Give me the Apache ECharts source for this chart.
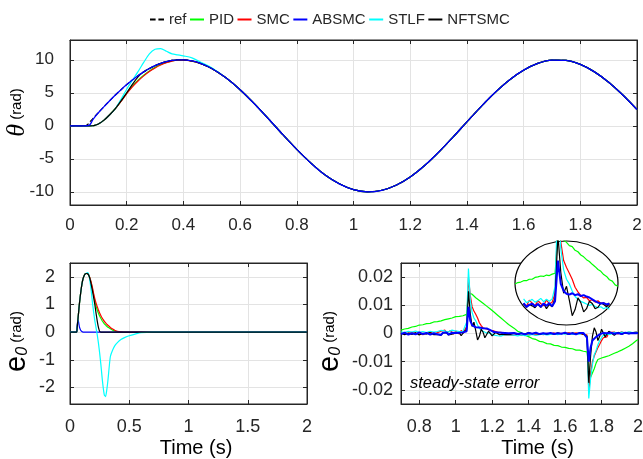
<!DOCTYPE html>
<html><head><meta charset="utf-8">
<script src="https://cdn.jsdelivr.net/npm/echarts@6/dist/echarts.min.js"></script>
<style>html,body{margin:0;padding:0;background:#fff}#c{width:643px;height:459px}</style>
</head><body><div id="c"></div>
<script>
// ---------- names ----------
const seriesNames = ['ref', 'PID', 'SMC', 'ABSMC', 'STLF', 'NFTSMC'];

// ---------- top panel: theta (rad) ----------
const tTopHead = [0, 0.05, 0.06, 0.07, 0.08, 0.09, 0.10, 0.12, 0.14, 0.16, 0.18, 0.20, 0.22, 0.24, 0.26, 0.28, 0.30, 0.32, 0.34, 0.36, 0.38, 0.40, 0.43, 0.46, 0.50];
const refHead    = [0, 0, 0.12, 0.59, 1.06, 1.53, 1.99, 2.91, 3.80, 4.66, 5.47, 6.24, 6.95, 7.59, 8.17, 8.68, 9.11, 9.46, 9.72, 9.90, 9.99, 9.99, 9.82, 9.46, 8.68];
const pidHead    = [0, 0, 0, 0, 0.01, 0.11, 0.27, 0.86, 1.68, 2.62, 3.74, 4.94, 6.02, 6.91, 7.67, 8.32, 8.85, 9.28, 9.60, 9.83, 9.95, 9.97, 9.81, 9.46, 8.68];
const smcHead    = [0, 0, 0, 0, 0.01, 0.11, 0.27, 0.86, 1.68, 2.61, 3.69, 4.86, 5.90, 6.79, 7.57, 8.23, 8.77, 9.21, 9.55, 9.79, 9.93, 9.96, 9.81, 9.46, 8.68];
const absmcHead  = [0, 0, 0.02, 0.16, 0.88, 1.46, 1.97, 2.91, 3.80, 4.66, 5.47, 6.24, 6.95, 7.59, 8.17, 8.68, 9.11, 9.46, 9.72, 9.90, 9.99, 9.99, 9.82, 9.46, 8.68];
const stlfHead   = [0, 0, 0, 0, 0.01, 0.11, 0.27, 0.86, 1.67, 2.61, 4.02, 5.54, 6.90, 8.20, 9.60, 10.90, 11.60, 11.70, 11.30, 10.90, 10.75, 10.60, 10.30, 9.65, 8.80];
const nftsmcHead = [0, 0, 0, 0, 0.01, 0.11, 0.27, 0.86, 1.68, 2.62, 3.77, 5.00, 6.27, 7.42, 8.17, 8.68, 9.11, 9.46, 9.72, 9.90, 9.99, 9.99, 9.82, 9.46, 8.68];
const tTopTail   = [0.55, 0.60, 0.65, 0.70, 0.75, 0.80, 0.85, 0.90, 0.95, 1.00, 1.05, 1.10, 1.15, 1.20, 1.25, 1.30, 1.35, 1.40, 1.45, 1.50, 1.55, 1.60, 1.65, 1.70, 1.75, 1.80, 1.85, 1.90, 1.95, 2.00];
const thetaTail  = [7.27, 5.47, 3.35, 1.06, -1.30, -3.57, -5.66, -7.46, -8.79, -9.67, -10.00, -9.77, -9.01, -7.75, -6.05, -4.02, -1.76, 0.59, 2.91, 5.07, 6.95, 8.43, 9.46, 9.96, 9.90, 9.30, 8.17, 6.60, 4.66, 2.46];
const topXTicks = [0, 0.2, 0.4, 0.6, 0.8, 1, 1.2, 1.4, 1.6, 1.8, 2];
const topYTicks = [-10, -5, 0, 5, 10];

// ---------- bottom-left: tracking error e0 (rad) ----------
const tErr = [0, 0.05, 0.057, 0.06, 0.065, 0.07, 0.075, 0.08, 0.09, 0.10, 0.11, 0.12, 0.13, 0.14, 0.15, 0.16, 0.17, 0.18, 0.19, 0.20, 0.21, 0.22, 0.23, 0.24, 0.25, 0.26, 0.27, 0.28, 0.29, 0.30, 0.31, 0.32, 0.34, 0.36, 0.38, 0.40, 0.43, 0.46, 0.50, 0.55, 0.60, 0.70, 1.00, 1.50, 2.00];
const ePID    = [0, 0, 0, 0.13, 0.37, 0.60, 0.83, 1.05, 1.42, 1.72, 1.93, 2.05, 2.11, 2.12, 2.11, 2.04, 1.92, 1.75, 1.55, 1.33, 1.12, 0.93, 0.80, 0.68, 0.58, 0.50, 0.42, 0.36, 0.30, 0.26, 0.21, 0.18, 0.12, 0.07, 0.04, 0.02, 0.01, 0, 0, 0, 0, 0, 0, 0, 0];
const eSMC    = [0, 0, 0, 0.13, 0.37, 0.60, 0.83, 1.05, 1.42, 1.72, 1.93, 2.05, 2.11, 2.12, 2.11, 2.05, 1.94, 1.78, 1.60, 1.38, 1.20, 1.05, 0.92, 0.80, 0.69, 0.60, 0.52, 0.45, 0.39, 0.34, 0.29, 0.25, 0.17, 0.11, 0.06, 0.03, 0.01, 0, 0, 0, 0, 0, 0, 0, 0];
const eABSMC  = [0, 0, 0, 0.20, 0.40, 0.43, 0.30, 0.18, 0.07, 0.02, 0, 0, 0, 0, 0, 0, 0, 0, 0, 0, 0, 0, 0, 0, 0, 0, 0, 0, 0, 0, 0, 0, 0, 0, 0, 0, 0, 0, 0, 0, 0, 0, 0, 0, 0];
const eSTLF   = [0, 0, 0, 0.13, 0.37, 0.60, 0.83, 1.05, 1.42, 1.72, 1.93, 2.05, 2.11, 2.14, 2.15, 2.05, 1.80, 1.45, 1.05, 0.70, 0.40, 0.15, -0.10, -0.40, -0.75, -1.15, -1.60, -2.00, -2.28, -2.33, -2.10, -1.75, -0.90, -0.65, -0.48, -0.38, -0.27, -0.20, -0.13, -0.07, -0.02, 0, 0, 0, 0];
const eNFTSMC = [0, 0, 0, 0.13, 0.37, 0.60, 0.83, 1.05, 1.42, 1.72, 1.93, 2.05, 2.11, 2.12, 2.11, 2.04, 1.90, 1.70, 1.48, 1.24, 0.98, 0.68, 0.40, 0.17, 0.03, 0, 0, 0, 0, 0, 0, 0, 0, 0, 0, 0, 0, 0, 0, 0, 0, 0, 0, 0, 0];
const blXTicks = [0, 0.5, 1, 1.5, 2];
const blYTicks = [-2, -1, 0, 1, 2];

// ---------- bottom-right: steady-state error, in milli-rad ----------
const tSS = [0.70, 0.72, 0.74, 0.76, 0.78, 0.80, 0.82, 0.84, 0.86, 0.88,
  0.90, 0.91, 0.92, 0.93, 0.94, 0.95, 0.96, 0.97, 0.98, 0.99,
  1.00, 1.01, 1.02, 1.03, 1.04, 1.05, 1.06, 1.07, 1.08, 1.09,
  1.10, 1.11, 1.12, 1.13, 1.14, 1.15, 1.16, 1.17, 1.18, 1.19,
  1.20, 1.21, 1.22, 1.23, 1.24, 1.25, 1.26, 1.27, 1.28, 1.29, 1.30,
  1.32, 1.34, 1.36, 1.38, 1.40, 1.42, 1.44, 1.46, 1.48, 1.50,
  1.52, 1.54, 1.56, 1.58, 1.60, 1.62, 1.64, 1.66, 1.68,
  1.69, 1.70, 1.71, 1.72, 1.73, 1.74, 1.75, 1.76, 1.77, 1.78, 1.79,
  1.80, 1.81, 1.82, 1.83, 1.84, 1.85,
  1.87, 1.89, 1.91, 1.93, 1.95, 1.97, 1.99, 2.00];
const ssPID = [1.2, 1.6, 1.8, 2.3, 2.5, 3.0, 3.1, 3.5, 3.6, 4.1,
  4.2, 4.5, 4.5, 4.8, 4.9, 5.2, 5.2, 5.5, 5.5, 5.9,
  6.0, 6.2, 6.1, 6.4, 6.3, 6.6, 6.8, 14.5, 14.8, 13.9,
  13.4, 12.7, 12.5, 11.7, 11.4, 10.7, 10.3, 9.7, 9.3, 8.7,
  8.2, 7.6, 7.2, 6.5, 6.1, 5.4, 5.1, 4.3, 4.0, 3.2, 2.9,
  1.9, 0.8, 0.3, -0.6, -1.1, -1.8, -2.1, -2.8, -3.0, -3.6,
  -3.7, -4.2, -4.3, -4.8, -4.9, -5.3, -5.4, -5.9, -5.9,
  -6.1, -6.3, -6.2, -6.5, -11.5, -15.5, -14.0, -12.5, -10.5, -9.2, -8.9,
  -8.7, -8.6, -8.3, -8.2, -7.9, -7.8,
  -7.0, -6.5, -5.9, -5.2, -4.5, -3.6, -2.6, -2.1];
const ssSMC = [0.2, -0.3, 0.1, 0.4, -0.2, 0.3, -0.4, 0.2, 0.5, -0.1,
  0.3, -0.2, 0.8, 0.1, 1.2, 0.2, -0.3, 1.0, 0.4, -0.2,
  0.9, 0.3, -0.2, 1.1, 0.2, 0.6, 2.5, 19.8, 13.5, 9.5,
  8.0, 6.8, 5.5, 3.8, 2.8, 2.0, 1.5, 1.6, 0.9, 1.1,
  0.6, 0.9, 0.3, 0.5, -0.2, 0.4, -0.5, 0.1, -0.6, -0.3, -0.5,
  -0.6, -0.3, -0.7, -0.4, -0.5, -0.2, -0.5, -0.1, -0.4, 0.1,
  -0.2, 0.2, -0.3, 0.1, -0.1, 0.3, -0.2, 0.2, -0.1,
  0.1, -0.3, 0.2, -0.5, -20.5, -14.5, -10.0, -8.0, -6.5, -5.0, -3.8,
  -2.5, -1.5, -0.8, -1.2, 0.3, -0.4,
  0.5, -0.2, 0.6, 0.1, 0.5, 0.2, 0.6, 0.4];
const ssSTLF = [0.6, 0.3, 0.8, 0.5, 0.9, 0.4, 0.7, 0.3, 0.8, 0.5,
  0.7, 0.4, 1.1, 0.6, 0.9, 1.3, 0.5, 0.8, 1.2, 0.6,
  0.9, 1.4, 0.7, 1.2, 0.8, 1.3, 4.0, 23.0, 12.0, 7.5,
  5.5, 4.5, 3.0, 1.8, 1.2, 0.8, 0.5, 0.2, -0.1, 0.1,
  -0.3, -0.6, -0.4, -0.8, -0.5, -0.9, -0.6, -0.4, -0.8, -0.5, -0.7,
  -0.6, -0.9, -0.5, -0.8, -0.6, -0.3, -0.7, -0.4, -0.2, -0.5,
  -0.3, -0.1, -0.4, 0.0, -0.2, 0.1, -0.3, 0.0, -0.2,
  -0.1, 0.1, -0.3, -1.0, -23.0, -16.0, -11.0, -7.5, -6.0, -4.0, -2.5,
  -1.5, -0.6, -1.0, -0.2, 0.2, -0.3,
  0.4, 0.0, 0.5, 0.2, 0.6, 0.3, 0.5, 0.4];
const ssABSMC = [-0.2, 0.3, -0.4, 0.1, -0.3, 0.4, -0.2, 0.2, -0.4, 0.1,
  -0.3, 0.2, -0.5, 0.3, -0.2, 0.4, -0.4, 0.0, 0.3, -0.3,
  0.2, -0.4, 0.3, -0.2, 0.4, -0.3, 0.8, 9.5, 4.5, 3.0,
  2.4, 2.2, 2.5, 2.1, 2.3, 1.9, 2.1, 1.8, 1.6, 1.2,
  0.8, 0.5, 0.3, 0.4, 0.1, 0.3, -0.1, 0.2, -0.2, 0.1, -0.1,
  0.2, -0.2, 0.1, -0.3, 0.2, -0.1, 0.3, -0.2, 0.1, -0.1,
  0.2, -0.2, 0.1, -0.1, 0.3, -0.2, 0.1, -0.3, 0.2,
  -0.1, 0.2, -0.3, -1.5, -10.0, -5.0, -2.5, -1.8, -1.2, -0.6, -0.3,
  -0.2, 0.2, -0.3, 0.1, -0.2, 0.3,
  -0.1, 0.2, -0.2, 0.3, 0.0, 0.2, 0.1, 0.2];
const ssNFTSMC = [0.1, -0.4, 0.2, -0.3, 0.3, -0.5, 0.1, -0.2, 0.3, -0.4,
  -0.3, 0.1, -0.6, 0.2, -0.4, 0.3, -0.5, 0.1, -0.2, -0.6,
  0.2, -0.5, 0.3, -0.8, 0.1, -0.4, 1.5, 15.0, 7.0, 2.5,
  4.0, 1.0, -2.3, -1.0, 1.5, 0.5, -1.5, -0.8, 0.8, 0.3,
  -0.8, -0.5, 0.4, 0.1, -0.4, 0.2, -0.3, 0.1, -0.2, 0.2, -0.3,
  0.2, -0.3, 0.1, -0.2, 0.3, -0.1, 0.2, -0.3, 0.1, -0.2,
  0.1, -0.2, 0.2, -0.1, 0.1, -0.3, 0.2, -0.1, 0.2,
  0.1, -0.2, 0.1, -1.0, -17.5, -8.0, -1.0, 2.0, 0.5, -2.5, -1.0,
  1.5, 0.8, -1.2, -0.5, 0.8, 0.2,
  -0.6, 0.4, -0.3, 0.3, -0.1, 0.2, 0.1, 0.3];
const brXTicks = [0.8, 1, 1.2, 1.4, 1.6, 1.8, 2];
const brYTicks = [-0.02, -0.01, 0, 0.01, 0.02];
const insetRangeWide = [0.92, 1.28];
const insetRangeNarrow = [0.95, 1.25];

// ---------- styling ----------
const COL = { ref: '#000000', PID: '#00ff00', SMC: '#ff0000', ABSMC: '#0000ff', STLF: '#00ffff', NFTSMC: '#000000' };
const AX = '#262626', GRIDC = '#e3e3e3', FONT = 'Liberation Sans, Arial, sans-serif';

const pairs = (ts, vs, k) => ts.map((t, i) => [t, vs[i] * (k || 1)]);
const pairsIn = (ts, vs, k, r) => pairs(ts, vs, k).filter(p => p[0] >= r[0] - 1e-9 && p[0] <= r[1] + 1e-9);

function mainX(grid, min, max, interval, ticks, fs, margin, extra) {
  const ax = {
    type: 'value', gridIndex: grid, min, max, interval, position: 'bottom', nameMoveOverlap: false,
    axisLine: { show: true, onZero: false, lineStyle: { color: AX, width: 1 } },
    axisTick: { show: true, inside: true, length: 4, lineStyle: { color: AX } },
    axisLabel: { color: AX, fontSize: fs, fontFamily: FONT, margin, showMinLabel: true, showMaxLabel: true },
    splitLine: { show: true, lineStyle: { color: GRIDC, width: 1 } }
  };
  if (ticks) { ax.axisTick.customValues = ticks; ax.axisLabel.customValues = ticks; }
  return Object.assign(ax, extra || {});
}
function mainY(grid, min, max, interval, ticks, fs, margin, extra) {
  const ax = {
    type: 'value', gridIndex: grid, min, max, interval, position: 'left', nameMoveOverlap: false,
    axisLine: { show: true, onZero: false, lineStyle: { color: AX, width: 1 } },
    axisTick: { show: true, inside: true, length: 4, lineStyle: { color: AX } },
    axisLabel: { color: AX, fontSize: fs, fontFamily: FONT, margin },
    splitLine: { show: true, lineStyle: { color: GRIDC, width: 1 } }
  };
  if (ticks) { ax.axisTick.customValues = ticks; ax.axisLabel.customValues = ticks; }
  return Object.assign(ax, extra || {});
}
function sideAx(grid, min, max, interval, ticks, pos) {
  const ax = {
    type: 'value', gridIndex: grid, min, max, interval, position: pos,
    axisLine: { show: true, onZero: false, lineStyle: { color: AX, width: 1 } },
    axisTick: { show: true, inside: true, length: 4, lineStyle: { color: AX } },
    axisLabel: { show: false }, splitLine: { show: false }
  };
  if (ticks) { ax.axisTick.customValues = ticks; ax.axisLabel.customValues = ticks; }
  return ax;
}

const richE = {
  e: { fontFamily: FONT, fontSize: 29, color: '#000', verticalAlign: 'middle' },
  s: { fontFamily: FONT, fontSize: 16, fontStyle: 'italic', color: '#000', verticalAlign: 'bottom' },
  r: { fontFamily: FONT, fontSize: 15, color: '#000', verticalAlign: 'middle' }
};

const xAxes = [
  mainX(0, 0, 2, 0.2, topXTicks, 17, 12),
  sideAx(0, 0, 2, 0.2, topXTicks, 'top'),
  mainX(1, 0, 2, 0.5, blXTicks, 18, 14, { name: 'Time (s)', nameLocation: 'middle', nameGap: 34,
    nameTextStyle: { fontSize: 20, fontFamily: FONT, color: '#000', padding: [0, 0, 0, 15] } }),
  sideAx(1, 0, 2, 0.5, blXTicks, 'top'),
  mainX(2, 0.7, 2, 0.1, brXTicks, 18, 14, { name: 'Time (s)', nameLocation: 'middle', nameGap: 34,
    nameTextStyle: { fontSize: 20, fontFamily: FONT, color: '#000', padding: [0, 0, 0, 36] } }),
  sideAx(2, 0.7, 2, 0.1, brXTicks, 'top'),
  { type: 'value', gridIndex: 3, min: insetRangeWide[0], max: insetRangeWide[1], show: false, splitLine: { show: false } }
];
const yAxes = [
  mainY(0, -12, 13, 1, topYTicks, 17, 16, { name: '{th|θ}{r| (rad)}', nameLocation: 'middle', nameGap: 40,
    nameTextStyle: { padding: [0, 0, 0, 20], rich: {
      th: { fontFamily: 'Liberation Serif, DejaVu Serif, serif', fontStyle: 'italic', fontSize: 26, color: '#000', verticalAlign: 'middle' },
      r: { fontFamily: FONT, fontSize: 15, color: '#000', verticalAlign: 'middle' } } } }),
  sideAx(0, -12, 13, 1, topYTicks, 'right'),
  mainY(1, -2.6, 2.5, 0.1, blYTicks, 18, 15, { name: '{e|e}{s|0}{r| (rad)}', nameLocation: 'middle', nameGap: 39,
    nameTextStyle: { padding: [0, 16, 0, 0], rich: richE } }),
  sideAx(1, -2.6, 2.5, 0.1, blYTicks, 'right'),
  mainY(2, -0.025, 0.025, 0.005, brYTicks, 18, 8, { name: '{e|e}{s|0}{r| (rad)}', nameLocation: 'middle', nameGap: 57,
    nameTextStyle: { padding: [0, 16, 0, 0], rich: richE } }),
  sideAx(2, -0.025, 0.025, 0.005, brYTicks, 'right'),
  { type: 'value', gridIndex: 3, min: -0.0043, max: 0.0137, show: false, splitLine: { show: false } }
];

function line(name, data, xi, yi, width, z, smooth) {
  return {
    type: 'line', name, data, xAxisIndex: xi, yAxisIndex: yi, symbol: 'none', showSymbol: false,
    smooth: smooth || false, z, silent: true, animation: false,
    lineStyle: { color: COL[name], width, type: name === 'ref' ? 'dashed' : 'solid' },
    itemStyle: { color: COL[name] }, emphasis: { disabled: true }
  };
}

const series = [
  // top panel
  line('ref', pairs(tTopHead.concat(tTopTail), refHead.concat(thetaTail)), 0, 0, 1.2, 2, 0.3),
  line('PID', pairs(tTopHead.concat(tTopTail), pidHead.concat(thetaTail)), 0, 0, 1.2, 3, 0.3),
  line('SMC', pairs(tTopHead.concat(tTopTail), smcHead.concat(thetaTail)), 0, 0, 1.2, 4, 0.3),
  line('STLF', pairs(tTopHead.concat(tTopTail), stlfHead.concat(thetaTail)), 0, 0, 1.2, 5, 0.3),
  line('NFTSMC', pairs(tTopHead.concat(tTopTail), nftsmcHead.concat(thetaTail)), 0, 0, 1.2, 6, 0.3),
  line('ABSMC', pairs(tTopHead.concat(tTopTail), absmcHead.concat(thetaTail)), 0, 0, 1.3, 7, 0.3),
  // bottom-left
  line('PID', pairs(tErr, ePID), 2, 2, 1.2, 3, 0.2),
  line('SMC', pairs(tErr, eSMC), 2, 2, 1.2, 4, 0.2),
  line('ABSMC', pairs(tErr, eABSMC), 2, 2, 1.2, 5, 0.2),
  line('STLF', pairs(tErr, eSTLF), 2, 2, 1.2, 6, 0.2),
  line('NFTSMC', pairs(tErr, eNFTSMC), 2, 2, 1.2, 7, 0.2),
  // bottom-right
  line('PID', pairs(tSS, ssPID, 0.001), 4, 4, 1.2, 3),
  line('SMC', pairs(tSS, ssSMC, 0.001), 4, 4, 1.2, 4),
  line('STLF', pairs(tSS, ssSTLF, 0.001), 4, 4, 1.2, 5),
  line('NFTSMC', pairs(tSS, ssNFTSMC, 0.001), 4, 4, 1.2, 6),
  line('ABSMC', pairs(tSS, ssABSMC, 0.001), 4, 4, 2, 7),
  // inset (zoom of the first spike)
  line('PID', pairsIn(tSS, ssPID, 0.001, insetRangeWide), 6, 6, 1.2, 13),
  line('SMC', pairsIn(tSS, ssSMC, 0.001, insetRangeNarrow), 6, 6, 1.2, 14),
  line('STLF', pairsIn(tSS, ssSTLF, 0.001, insetRangeNarrow), 6, 6, 1.2, 15),
  line('NFTSMC', pairsIn(tSS, ssNFTSMC, 0.001, insetRangeNarrow), 6, 6, 1.2, 16),
  line('ABSMC', pairsIn(tSS, ssABSMC, 0.001, insetRangeNarrow), 6, 6, 2, 17)
];

const legendData = seriesNames.map(n => ({
  name: n,
  icon: n === 'ref' ? 'path://M0,0h6v2h-6zM9,0h6v2h-6z' : 'rect'
}));

const gridBase = { show: true, borderColor: AX, borderWidth: 1, backgroundColor: 'transparent', containLabel: false, outerBoundsMode: 'none' };
const option = {
  animation: false,
  backgroundColor: '#ffffff',
  grid: [
    Object.assign({ left: 70, top: 40, width: 567, height: 165 }, gridBase),
    Object.assign({ left: 70, top: 263, width: 237, height: 141 }, gridBase),
    Object.assign({ left: 401, top: 263, width: 237, height: 141 }, gridBase),
    { left: 515, top: 241, width: 103, height: 84, show: false, containLabel: false, outerBoundsMode: 'none' }
  ],
  legend: {
    data: legendData, left: 150, top: 12, padding: 0, itemWidth: 14, itemHeight: 2, itemGap: 3.5,
    textStyle: { fontSize: 15, color: AX, fontFamily: FONT }, selectedMode: false
  },
  xAxis: xAxes,
  yAxis: yAxes,
  series,
  graphic: [
    { type: 'circle', z: 1, x: 566.5, y: 283, scaleX: 51.5 / 42, scaleY: 1,
      shape: { cx: 0, cy: 0, r: 42 }, style: { fill: '#ffffff', stroke: '#000000', lineWidth: 1, strokeNoScale: true }, silent: true },
    { type: 'text', z: 20, left: 410, top: 375,
      style: { text: 'steady-state error', fontSize: 16.5, fontStyle: 'italic', fontFamily: FONT, fill: '#000' }, silent: true }
  ]
};

const chart = echarts.init(document.getElementById('c'), null, { renderer: 'canvas' });
chart.setOption(option);
</script>
</body></html>
